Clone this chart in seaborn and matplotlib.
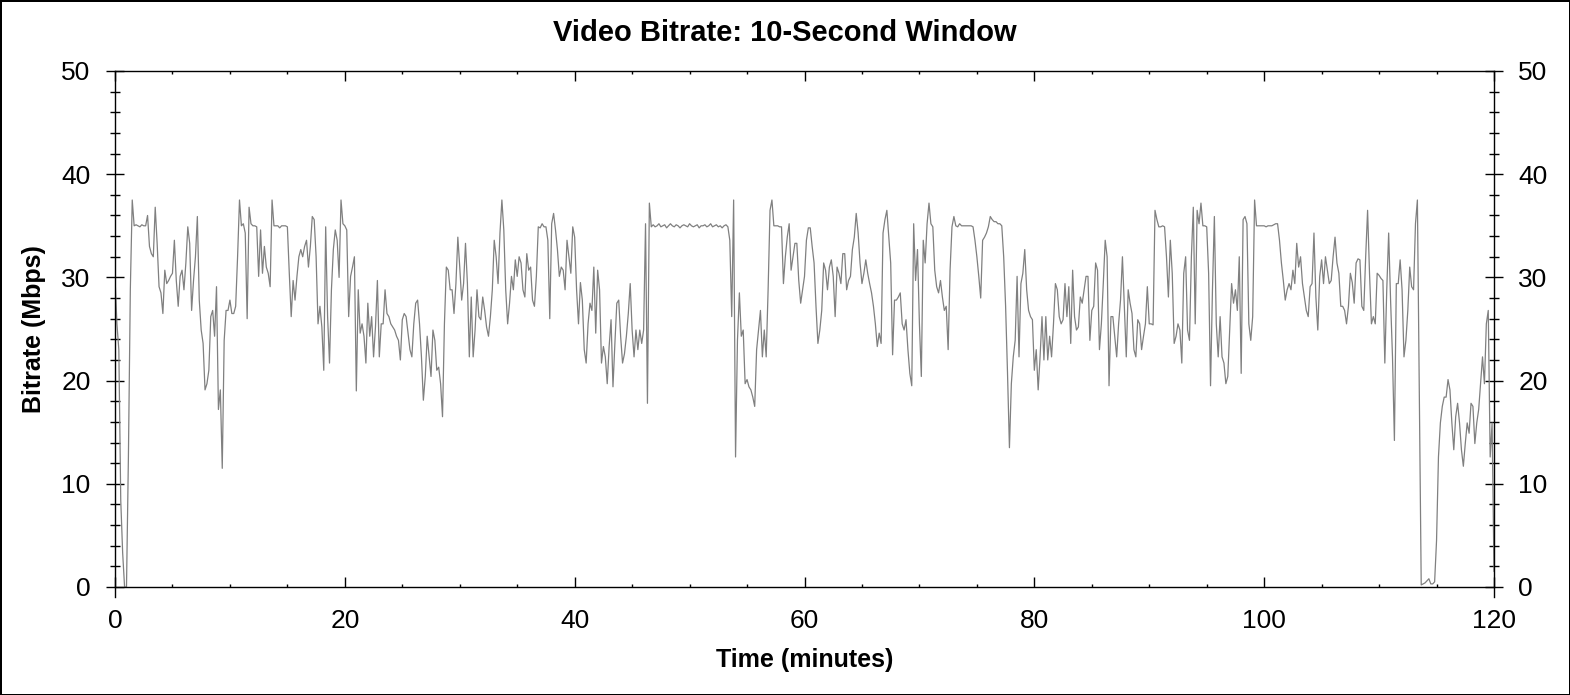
import numpy as np
import pandas as pd
import matplotlib
matplotlib.use("Agg")
import matplotlib.pyplot as plt
import seaborn as sns
from matplotlib.ticker import MultipleLocator

# 10-second window samples (minutes between samples)
SAMPLE_MIN = 1 / 6

# Bitrate (Mbps), consecutive 10-second windows
seg_a = [30, 25.5, 23, 8.4, 3.3, 0, 0, 12.6, 28.8, 37.5,
         35, 35.1, 35, 34.9, 35.1, 35, 35, 36, 33, 32.3,
         32, 36.8, 33.3, 29.1, 28.5, 26.5, 30.7, 29.4, 29.7, 30.1,
         30.4, 33.6, 29.7, 27.2, 30.1, 30.7, 28.8, 31.4, 34.9, 33.3,
         26.8, 29.7, 32, 35.9, 27.8, 24.9, 23.6, 19.1, 19.7, 21,
         26.2, 26.8, 24.3, 29.1, 17.2, 19.1, 11.5, 23.9, 26.8, 26.8,
         27.8, 26.5, 26.5, 27.2, 32, 37.5, 35, 35.2, 34.3, 26,
         36.8, 35.2, 35, 35, 34.9, 30.1, 34.6, 30.4, 33, 31]
seg_b = [30.4, 29.1, 37.5, 35, 35, 35, 34.8, 35, 35, 35,
         34.9, 30.4, 26.2, 29.7, 27.8, 30.1, 32, 32.7, 32, 33,
         33.6, 31, 33, 35.9, 35.6, 32, 25.5, 27.2, 25.2, 21,
         34.9, 26.2, 21.7, 28.8, 32.7, 34.6, 33.6, 30, 37.5, 35.2,
         35, 34.6, 26.2, 30.1, 31, 32, 19, 28.8, 24.6, 25.5,
         24.3, 21.7, 27.5, 24.3, 26.2, 22.3, 25.2, 29.7, 22.3, 25.5,
         25.5, 28.8, 26.5, 26.2, 25.5, 25.2, 24.9, 24.3, 23.9, 22,
         25.9, 26.5, 26.2, 24.6, 23, 22.3, 25.5, 27.5, 27.8, 25.5,
         22.3, 18.1]
seg_c = [20.4, 24.3, 22.3, 20.4, 24.9, 23.9, 21, 21.3, 19.7, 16.5,
         25.5, 31, 30.7, 28.8, 28.8, 26.5, 29.4, 33.9, 31, 27.8,
         29.4, 33.3, 29.4, 22.3, 28.1, 22.3, 24.9, 28.8, 26.2, 25.9,
         28.1, 26.8, 25.2, 24.3, 26.2, 28.8, 33.6, 32, 29.4, 34.3,
         37.5, 34.6, 28.8, 25.5, 27.5, 30.1, 28.8, 31.7, 30.1, 32,
         31.4, 28.8, 28.1, 32.3, 30.7, 31, 27.8, 27.2, 30.1, 34.9,
         34.8, 35.2, 34.9, 34.9, 33.6, 26, 35.2, 36.2, 34.6, 32.7,
         30.1, 31, 30.7, 28.8, 33.6, 32, 30.4, 34.9, 33.9, 28.8]
seg_d = [25.5, 29.5, 27.8, 23, 21.7, 25.5, 27.5, 26.8, 31, 24.6,
         30.7, 28.8, 21.7, 23.3, 22.3, 19.7, 23.3, 25.9, 19.4, 23.6,
         27.5, 27.8, 24.3, 21.7, 22.6, 24.3, 26.5, 29.4, 24.9, 22.3,
         24.9, 23, 24.9, 23.6, 24.9, 35.2, 17.8, 37.2, 34.9,
         35.1, 34.9, 35.0, 35.2, 34.9, 35.0, 35.1, 34.8, 35.0, 35.2,
         35.0, 34.9, 35.1, 35.0, 34.8, 35.0, 35.1, 35.0, 34.9, 35.2,
         35.0, 34.9, 35.0, 35.1, 34.8, 35.0, 35.0, 35.1, 34.9, 35.0,
         35.2, 34.9, 35.0, 35.1, 34.9, 35.0, 34.8, 35.0, 35.1,
         34.9, 33.6, 26.2, 37.5]
seg_e = [12.6, 23.9, 28.5, 24.3, 24.9, 19.7, 20.1, 19.4, 19.1, 18.4,
         17.5, 23, 24.9, 26.8, 22.3, 24.9, 22.3, 28.8, 36.5, 37.5,
         35, 35, 35, 34.9, 34.9, 29.4, 32, 33.9, 35.2, 30.7,
         32, 33.3, 33.3, 29.7, 27.5, 28.8, 30.1, 33.6, 34.8, 34.8,
         33, 31.4, 27.2, 23.6, 24.9, 26.8, 31.4, 30.7, 28.8, 31,
         31.7, 30.1, 26.2, 31, 30.4, 29.4, 32.3, 32.3, 28.8, 29.7,
         30.1, 32.7, 33.9, 36.2, 34.3, 31.4, 29.4, 30.4, 31.7, 30.4,
         29.4, 28.5, 27.2, 25.5, 23.3, 24.6, 23.6, 34.3, 35.6, 36.5,
         33.9]
seg_f = [31.4, 22.5, 27.8, 27.8, 28.1, 28.5, 25.5, 24.9, 25.9, 23,
         20.7, 19.5, 35.2, 29.7, 32.7, 25.5, 20.4, 33.6, 31.4, 35.2,
         37.2, 35.2, 34.9, 30.7, 29.1, 28.5, 29.7, 28.1, 26.8, 27.2,
         23, 30.7, 34.9, 35.9, 35, 34.9, 35.2, 35, 35, 35,
         35, 35, 35, 34.9, 33.6, 32, 30.1, 28, 33.6, 33.9,
         34.3, 34.9, 35.9, 35.6, 35.4, 35.4, 35.2, 35.2, 35, 32,
         27.2, 20.7, 13.5, 19.7, 22.3, 23.9, 30.1, 22.3, 29.4, 30.4,
         32.7, 28.8, 26.8, 26.2, 25.9, 21, 23, 19.1, 22.3, 26.2,
         22]
seg_g = [26.2, 22, 24.3, 22.3, 25.5, 29.4, 28.8, 26.2, 25.5, 25.9,
         29.4, 26.2, 29.1, 23.6, 30.7, 26.2, 24.9, 25.2, 28.1, 27.5,
         28.8, 30.1, 30.1, 23.9, 26.8, 27.2, 31.4, 30.7, 23, 25.5,
         29.4, 33.6, 32, 19.5, 26.2, 26.2, 24.3, 22.3, 25.5, 27.8,
         32, 27.2, 22.3, 28.8, 27.5, 26.5, 23, 22.3, 25.9, 25.5,
         23, 24.3, 25.5, 29.1, 25.5, 25.5, 25.4, 36.5, 35.6, 34.9,
         34.9, 35, 34.9, 32, 28.1, 33.6, 30.4, 23.6, 24.3, 25.5,
         24.9, 21.7, 30.4, 32, 24.9, 23.9, 32, 36.8, 25.5, 36.5,
         35.2]
seg_h = [37.2, 35, 35, 34.9, 30.4, 19.5, 28.8, 35.9, 25.5, 22.3,
         26.2, 22.3, 21.7, 19.7, 20.4, 24.9, 29.4, 27.5, 28.8, 26.8,
         32, 20.7, 35.6, 35.9, 35.2, 25.5, 23.9, 26.2, 37.5, 35,
         35, 35, 35, 35, 34.9, 35, 35, 35, 35.1, 35.2,
         35.2, 33.6, 31.4, 29.7, 27.8, 28.8, 29.4, 28.8, 30.7, 29.4,
         33.3, 31, 32, 29.4, 28.1, 26.8, 26.2, 29.1, 29.4, 34.3,
         28.1, 24.9, 30.1, 31.7, 29.4, 32, 30.7, 29.4, 29.7, 32,
         33.9, 31.4, 30.4, 27.2, 27.2, 26.8, 25.5, 27.2, 30.4, 29.5]
seg_i = [27.5, 31.4, 31.8, 31.7, 27.2, 26.8, 32, 36.5, 30.4, 25.5,
         26.2, 25.5, 30.4, 30.2, 29.9, 29.7, 21.7, 28.8, 34.3, 27.8,
         22.3, 14.2, 29.4, 29.4, 31.7, 28.8, 22.3, 23.9, 26.8, 31,
         29.1, 28.8, 35.2, 37.5, 19.1, 0.2, 0.3, 0.4, 0.6, 0.8,
         0.3, 0.3, 0.5, 4.5, 12.6, 15.9, 17.5, 18.4, 18.4, 20.1,
         19.1, 15.9, 13.3, 16.5, 17.8, 15.9, 13.3, 11.7, 13.9, 15.9,
         14.9, 17.8, 17.5, 13.9, 15.9, 17.2, 19.7, 22.3, 19.7, 25.5,
         26.8, 12.6, 15.9, 1.5]

bitrate = np.array(seg_a + seg_b + seg_c + seg_d + seg_e + seg_f + seg_g + seg_h + seg_i)
minutes = np.arange(len(bitrate)) * SAMPLE_MIN

TITLE = "Video Bitrate: 10-Second Window"
XLABEL = "Time (minutes)"
YLABEL = "Bitrate (Mbps)"

sns.set_style("ticks")
plt.rcParams["font.family"] = ["Liberation Sans", "DejaVu Sans"]
plt.rcParams["text.color"] = "black"
plt.rcParams["axes.labelcolor"] = "black"
plt.rcParams["xtick.color"] = "black"
plt.rcParams["ytick.color"] = "black"

fig = plt.figure(figsize=(15.7, 6.95), dpi=100)
fig.patch.set_facecolor("white")
fig.patch.set_edgecolor("black")
fig.patch.set_linewidth(2)
ax = fig.add_axes([115 / 1570, 108 / 695, 1379 / 1570, 516 / 695])

df = pd.DataFrame({"Time": minutes, "Bitrate": bitrate})
sns.lineplot(data=df, x="Time", y="Bitrate", ax=ax, color="#808080",
             linewidth=0.9, legend=False)

ax.set_xlim(0, 120)
ax.set_ylim(0, 50)
ax.xaxis.set_major_locator(MultipleLocator(20))
ax.xaxis.set_minor_locator(MultipleLocator(5))
ax.yaxis.set_major_locator(MultipleLocator(10))
ax.yaxis.set_minor_locator(MultipleLocator(2))

for s in ax.spines.values():
    s.set_visible(True)
    s.set_color("black")
    s.set_linewidth(1)
for side in ("left", "right"):
    ax.spines[side].set_bounds(-0.97, 50)
    ax.spines[side].set_clip_on(False)

ax.tick_params(axis="x", which="major", direction="in", length=7, width=1,
               top=True, bottom=True, labelsize=19, pad=16, colors="black")
ax.tick_params(axis="x", which="minor", direction="in", length=2.5, width=1,
               top=True, bottom=True)
ax.tick_params(axis="y", which="major", direction="inout", length=13, width=1,
               left=True, right=True, labelleft=True, labelright=True,
               labelsize=19, pad=11, colors="black")
ax.tick_params(axis="y", which="minor", direction="inout", length=6.5, width=1,
               left=True, right=True)

ax.set_xlabel(XLABEL, fontsize=18, fontweight="bold", labelpad=11, color="black")
ax.set_ylabel(YLABEL, fontsize=18, fontweight="bold", labelpad=11, color="black")
fig.suptitle(TITLE, x=0.5, y=1 - 33 / 695, va="center",
             fontsize=21, fontweight="bold", color="black")

fig.savefig("out.png", dpi=100, facecolor="white", edgecolor="black")
